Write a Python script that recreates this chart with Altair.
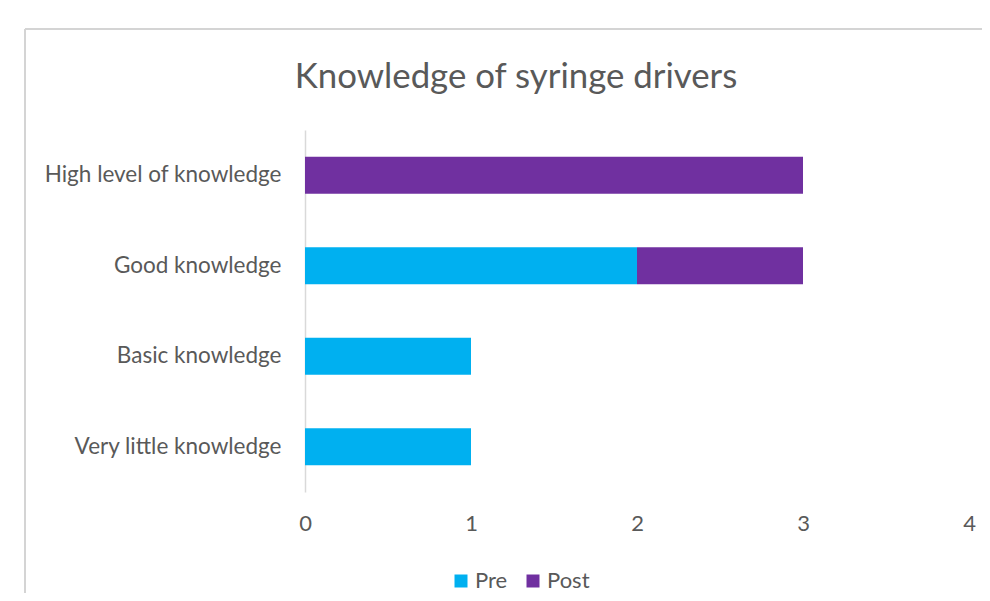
import altair as alt
import pandas as pd

title_text = "Knowledge of syringe drivers"
categories = ["High level of knowledge", "Good knowledge", "Basic knowledge", "Very little knowledge"]
series = ["Pre", "Post"]
pre_values = [0, 2, 1, 1]
post_values = [3, 1, 0, 0]
colors = ["#00B0F0", "#7030A0"]
x_ticks = [0, 1, 2, 3, 4]

rows = []
for i, c in enumerate(categories):
    rows.append({"category": c, "series": "Pre", "value": pre_values[i], "order": 0})
    rows.append({"category": c, "series": "Post", "value": post_values[i], "order": 1})
df = pd.DataFrame(rows)

FONT = "Lato"
GRAY = "#595959"

bars = alt.Chart(df).mark_bar().encode(
    y=alt.Y("category:N", sort=categories,
            scale=alt.Scale(paddingInner=0.59, paddingOuter=0.295),
            axis=alt.Axis(title=None, ticks=False, grid=False, domainColor="#d9d9d9",
                          domainWidth=1.5, labelFont=FONT, labelFontSize=22.5,
                          labelColor=GRAY, labelPadding=24, labelLimit=400)),
    x=alt.X("value:Q", stack="zero",
            scale=alt.Scale(domain=[0, 4], nice=False),
            axis=alt.Axis(title=None, values=x_ticks, ticks=False, grid=False, domain=False,
                          labelFont=FONT, labelFontSize=22, labelColor=GRAY,
                          labelFlush=False, labelPadding=21, format="d")),
    color=alt.Color("series:N", sort=series,
                    scale=alt.Scale(domain=series, range=colors),
                    legend=alt.Legend(title=None, orient="none", legendX=145, legendY=440,
                                      direction="horizontal", symbolType="square",
                                      symbolSize=169, symbolStrokeWidth=0,
                                      labelFont=FONT, labelFontSize=22, labelColor=GRAY,
                                      labelOffset=3, columnPadding=14)),
    order=alt.Order("order:Q"),
)

frame_df = pd.DataFrame({"k": [0]})
left_border = alt.Chart(frame_df).mark_rule(color="#d4d4d4", strokeWidth=2).encode(
    x=alt.value(-280), y=alt.value(-101), y2=alt.value(470))
top_border = alt.Chart(frame_df).mark_rule(color="#d4d4d4", strokeWidth=2).encode(
    x=alt.value(-280), x2=alt.value(680), y=alt.value(-101))
title = alt.Chart(frame_df).mark_text(font=FONT, fontSize=34.8, color=GRAY, align="center",
                                      baseline="alphabetic").encode(
    x=alt.value(211), y=alt.value(-42), text=alt.value(title_text))

chart = alt.layer(bars, left_border, top_border, title).properties(
    width=664, height=362,
    autosize=alt.AutoSizeParams(type="none"),
    padding={"left": 297, "top": 122, "right": 13, "bottom": 101},
    background="white",
).configure_view(stroke=None)

chart.save("out.html", embed_options={"renderer": "svg", "actions": False})
